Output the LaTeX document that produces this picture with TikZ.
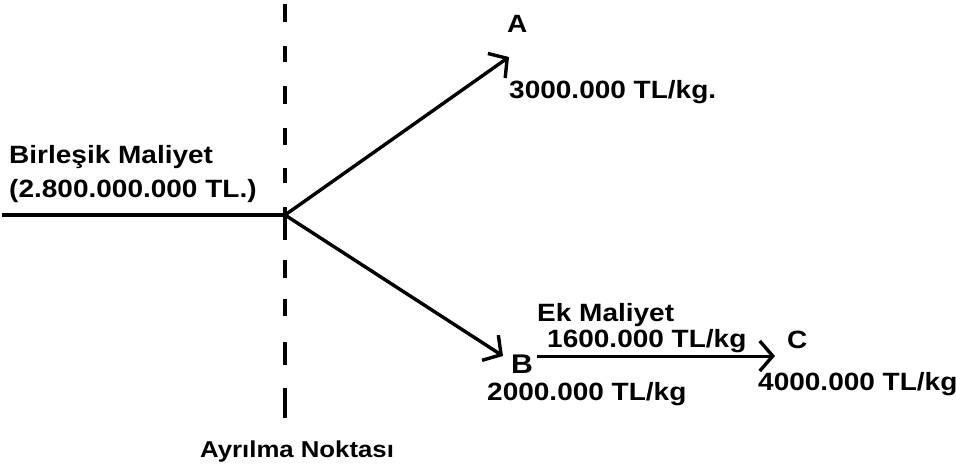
\documentclass[tikz,border=0pt]{standalone}
\usepackage{fontspec}
\setmainfont{Liberation Sans}[FakeStretch=1.12]
\usetikzlibrary{arrows.meta}
\tikzset{
  lbl/.style={inner sep=0pt, anchor=base west, font=\fontsize{25}{30}\selectfont\bfseries},
  conn/.style={line width=3.2pt},
  arrconn/.style={line width=3.4pt, -{Straight Barb[length=13pt, width=30pt, line width=3.4pt]}},
  sep/.style={line width=4.5pt}
}
\begin{document}
\begin{tikzpicture}[x=1pt,y=-1pt]
\useasboundingbox (0,0) rectangle (956,469);
% separation line (dashes of uneven length, as drawn)
\foreach \a/\b [count=\i] in {4/22,46/62,86/104,128/145,168/183,207/240,260/278,299/316,342/365,388/418}{
  \coordinate (d\i a) at (285,\a);
  \coordinate (d\i b) at (285,\b);
  \draw[sep] (d\i a) -- (d\i b);
}
% connectors
\coordinate (left) at (2,215);
\coordinate (split) at (285,215);
\coordinate (tipA) at (509,57);
\coordinate (tipB) at (503,356);
\coordinate (startC) at (537,356);
\coordinate (tipC) at (775,356);
\draw[conn] (left) -- (split);
\draw[arrconn] (split) -- (tipA);
\draw[arrconn] (split) -- (tipB);
\draw[arrconn, line width=3pt] (startC) -- (tipC);
% labels
\node[lbl] (lA) at (507,32) {A};
\node[lbl] (pA) at (509,98) {3000.000 TL/kg.};
\node[lbl] (jc1) at (9,163) {Birleşik Maliyet};
\node[lbl] (jc2) at (9,197) {(2.800.000.000 TL.)};
\node[lbl] (ek) at (537,321) {Ek Maliyet};
\node[lbl] (ekp) at (547,347) {1600.000 TL/kg};
\node[lbl, font=\fontsize{27}{30}\selectfont\bfseries] (lB) at (511,373) {B};
\node[lbl] (pB) at (487,400) {2000.000 TL/kg};
\node[lbl] (lC) at (787,348) {C};
\node[lbl] (pC) at (758,390) {4000.000 TL/kg};
\node[lbl, font=\fontsize{23}{27}\selectfont\bfseries] (split lbl) at (200,457) {Ayrılma Noktası};
\end{tikzpicture}
\end{document}
